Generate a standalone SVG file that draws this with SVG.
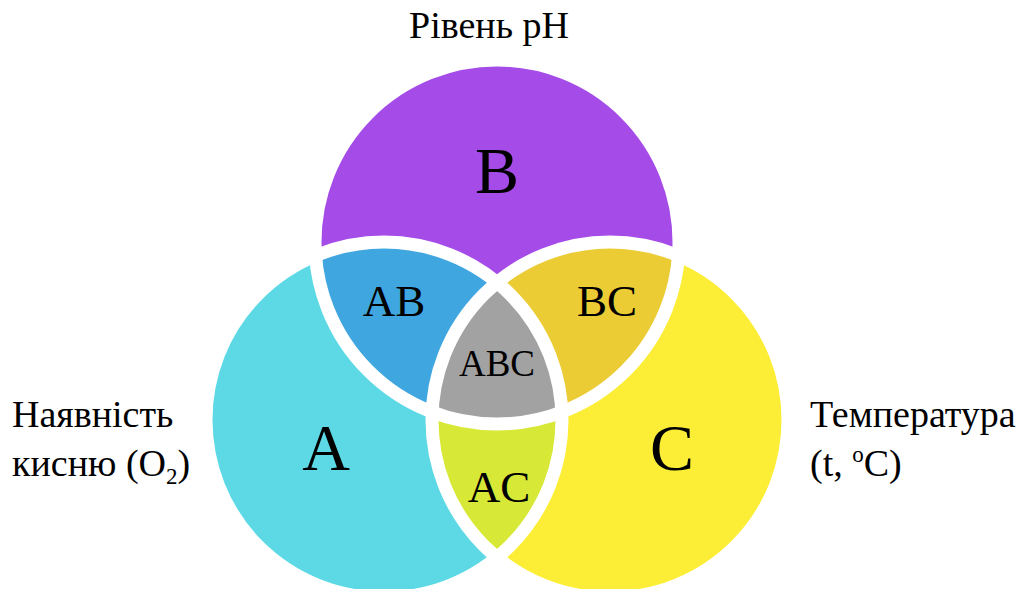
<svg xmlns="http://www.w3.org/2000/svg" width="1028" height="589" viewBox="0 0 1028 589">
<style>
text{font-family:"Liberation Serif","Times New Roman",serif;fill:#000}
.big{font-size:66px;text-anchor:middle}
.mid{font-size:45px;text-anchor:middle}
.sm{font-size:37px;text-anchor:middle}
.lbl{font-size:38px}
.gap{fill:none;stroke:#fff;stroke-width:13}
</style>
<defs>
<clipPath id="cA"><circle cx="384" cy="420" r="178"/></clipPath>
<clipPath id="cC"><circle cx="610" cy="420" r="178"/></clipPath>
</defs>
<rect width="1028" height="589" fill="#fff"/>
<g id="setA"><circle cx="384" cy="420" r="178" fill="#5DD9E6"/></g>
<g id="setC"><circle cx="610" cy="420" r="178" fill="#FCEE36"/></g>
<g id="setB"><circle cx="497" cy="242" r="182" fill="#A54BE7"/></g>
<g id="setAB" clip-path="url(#cA)"><circle cx="497" cy="242" r="182" fill="#3FA6E0"/></g>
<g id="setBC" clip-path="url(#cC)"><circle cx="497" cy="242" r="182" fill="#EBCC35"/></g>
<g id="setAC" clip-path="url(#cC)"><circle cx="384" cy="420" r="178" fill="#D8E836"/></g>
<g id="setABC" clip-path="url(#cA)"><g clip-path="url(#cC)"><circle cx="497" cy="242" r="182" fill="#A2A2A2"/></g></g>
<g id="gaps">
<circle class="gap" cx="384" cy="420" r="178"/>
<circle class="gap" cx="610" cy="420" r="178"/>
<circle class="gap" cx="497" cy="242" r="182"/>
</g>
<g id="labels">
<text class="big" x="497" y="193">B</text>
<text class="big" x="326" y="470">A</text>
<text class="big" x="672" y="470">C</text>
<text class="mid" x="394" y="316">AB</text>
<text class="mid" x="607" y="316">BC</text>
<text class="mid" x="499" y="502">AC</text>
<text class="sm" x="497" y="376">ABC</text>
<text class="lbl" x="489" y="38" text-anchor="middle">Рівень pH</text>
<text class="lbl" x="12" y="427">Наявність</text>
<text class="lbl" x="12" y="476">кисню (O<tspan font-size="23" dy="8">2</tspan><tspan dy="-8">)</tspan></text>
<text class="lbl" x="810" y="427">Температура</text>
<text class="lbl" x="810" y="476">(t, <tspan font-size="23" dy="-14">o</tspan><tspan dy="14">C)</tspan></text>
</g>
</svg>
